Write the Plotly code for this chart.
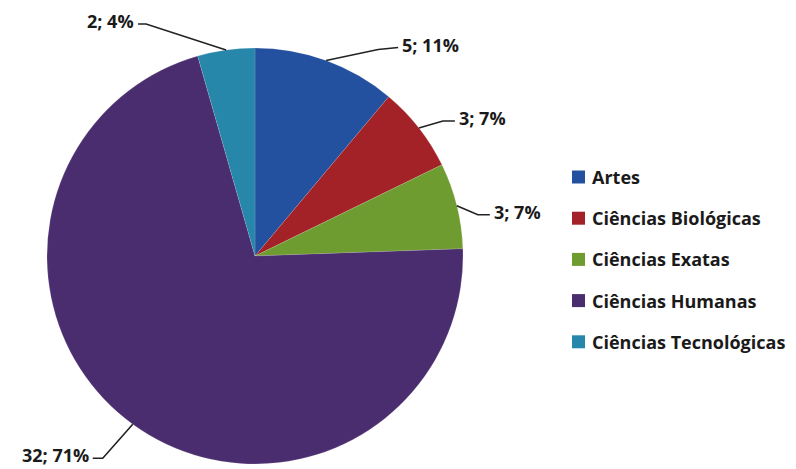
import math
import plotly.graph_objects as go

# ---------------- data ----------------
categories = ["Artes", "Ciências Biológicas", "Ciências Exatas",
              "Ciências Humanas", "Ciências Tecnológicas"]
counts = [5, 3, 3, 32, 2]
percents = [11, 7, 7, 71, 4]

# ---------------- style ----------------
colors = ["#23519f", "#a32227", "#6f9c30", "#4a2d6e", "#2787ab"]
W, H = 796, 469
CX, CY, R = 255, 256, 208          # pie centre / radius in pixels
FONT = "Open Sans"
TXT = "#1a1a1a"

# leader-line layout per slice: (elbow dx, dy), (end dx, dy), text side
leader = [
    ((52, -11), (72, -13), "left"),
    ((24, -7), (36, -7), "left"),
    ((21, 9), (33, 9), "left"),
    ((-30, 34), (-40, 34), "right"),
    ((-80, -26), (-88, -26), "right"),
]

def px(x):
    return x / W

def py(y):
    return 1 - y / H

fig = go.Figure(go.Pie(
    labels=categories,
    values=counts,
    sort=False,
    direction="clockwise",
    rotation=0,
    marker=dict(colors=colors, line=dict(color="rgba(255,255,255,0.25)", width=0.5)),
    textinfo="none",
    hoverinfo="label+value+percent",
    domain=dict(x=[(CX - R) / W, (CX + R) / W],
                y=[1 - (CY + R) / H, 1 - (CY - R) / H]),
    showlegend=False,
))

shapes = []
annotations = []
total = sum(counts)
cum = 0
for i, (c, p) in enumerate(zip(counts, percents)):
    mid = (cum + c / 2) / total * 2 * math.pi
    cum += c
    ax_ = CX + R * math.sin(mid)
    ay_ = CY - R * math.cos(mid)
    (e1x, e1y), (e2x, e2y), side = leader[i]
    ex, ey = ax_ + e1x, ay_ + e1y
    fx, fy = ax_ + e2x, ay_ + e2y
    shapes.append(dict(
        type="path", xref="paper", yref="paper",
        path=f"M {px(ax_)} {py(ay_)} L {px(ex)} {py(ey)} L {px(fx)} {py(fy)}",
        line=dict(color="#222222", width=1.6),
    ))
    tx = fx + 3 if side == "left" else fx - 3
    annotations.append(dict(
        x=px(tx), y=py(fy - 3), xref="paper", yref="paper",
        text=f"{c}; {p}%", showarrow=False,
        xanchor=side, yanchor="middle", borderpad=0,
        font=dict(family=FONT, size=18, color=TXT, weight="bold"),
    ))

# custom legend (vertical spacing as in reference)
LX, LY0, LDY, SQ = 572, 177, 41.2, 13
for i, name in enumerate(categories):
    yc = LY0 + i * LDY
    shapes.append(dict(
        type="rect", xref="paper", yref="paper",
        x0=px(LX), x1=px(LX + SQ), y0=py(yc + SQ / 2), y1=py(yc - SQ / 2),
        fillcolor=colors[i], line=dict(width=0),
    ))
    annotations.append(dict(
        x=px(LX + SQ + 5), y=py(yc), xref="paper", yref="paper",
        text=name, showarrow=False, xanchor="left", yanchor="middle",
        font=dict(family=FONT, size=18, color=TXT, weight="bold"),
    ))

fig.update_layout(
    width=W, height=H,
    margin=dict(l=0, r=0, t=0, b=0),
    paper_bgcolor="white",
    plot_bgcolor="white",
    shapes=shapes,
    annotations=annotations,
    showlegend=False,
)

fig.write_html(
    "out.html",
    config={"displayModeBar": False},
    post_script="document.body.style.margin='0';document.body.style.padding='0';",
)
